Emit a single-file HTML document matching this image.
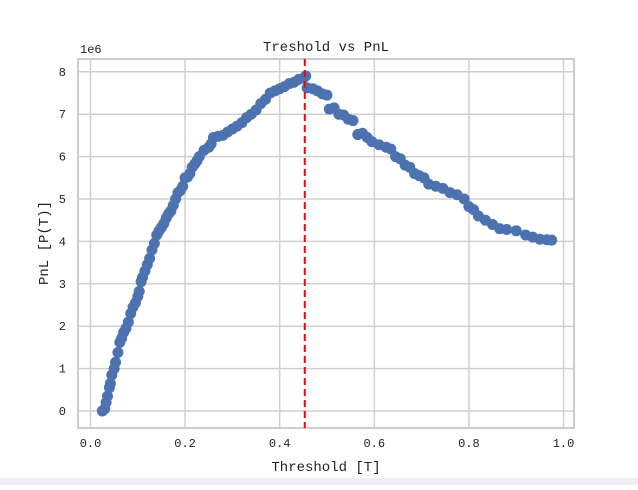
<!DOCTYPE html>
<html><head><meta charset="utf-8"><style>
body{margin:0;background:#fff;}
svg text{font-family:"Liberation Mono",monospace;fill:#222;}
</style></head><body>
<svg id="chart" width="638" height="485" xmlns="http://www.w3.org/2000/svg">
<rect x="0" y="0" width="638" height="485" fill="#fff"/>
<rect x="0" y="478" width="638" height="7" fill="#eeeef4"/>
<g id="grid"></g>
<rect x="78" y="59" width="496" height="369" fill="none" stroke="#ccc" stroke-width="2"/>
<g id="points"></g>
<line id="vline" y1="59" y2="428" stroke="#f00" stroke-width="2" stroke-dasharray="7,4"/>
<g id="ticks"></g>
<text x="326" y="51" font-size="14" text-anchor="middle">Treshold vs PnL</text>
<text x="80" y="53" font-size="12">1e6</text>
<text x="326" y="471" font-size="14" text-anchor="middle">Threshold [T]</text>
<text transform="translate(48,243) rotate(-90)" font-size="14" text-anchor="middle">PnL [P(T)]</text>
</svg>
<script>
const xs=[0.025,0.03,0.033,0.036,0.04,0.042,0.045,0.05,0.053,0.058,0.062,0.066,0.07,0.075,0.08,0.085,0.09,0.095,0.1,0.103,0.107,0.11,0.115,0.12,0.125,0.13,0.135,0.14,0.145,0.15,0.155,0.16,0.165,0.17,0.175,0.18,0.185,0.19,0.195,0.2,0.205,0.21,0.215,0.22,0.225,0.23,0.24,0.25,0.255,0.26,0.27,0.28,0.29,0.3,0.31,0.32,0.33,0.34,0.35,0.36,0.37,0.38,0.39,0.4,0.41,0.42,0.43,0.44,0.45,0.455,0.458,0.47,0.48,0.49,0.5,0.505,0.515,0.525,0.535,0.545,0.555,0.565,0.575,0.585,0.595,0.61,0.625,0.635,0.645,0.655,0.665,0.675,0.685,0.695,0.705,0.715,0.73,0.745,0.76,0.775,0.79,0.8,0.81,0.82,0.835,0.85,0.865,0.88,0.9,0.92,0.935,0.95,0.965,0.975];
const ys=[0,0.05,0.2,0.35,0.55,0.65,0.85,1.0,1.15,1.38,1.62,1.72,1.85,1.95,2.1,2.3,2.45,2.55,2.7,2.82,3.05,3.15,3.3,3.45,3.6,3.8,3.95,4.15,4.25,4.33,4.42,4.55,4.65,4.72,4.85,5.0,5.15,5.2,5.3,5.5,5.52,5.6,5.75,5.82,5.9,6.0,6.15,6.22,6.3,6.45,6.48,6.5,6.58,6.65,6.72,6.8,6.92,7.0,7.1,7.25,7.35,7.5,7.55,7.6,7.65,7.72,7.75,7.82,7.85,7.9,7.62,7.6,7.55,7.48,7.45,7.12,7.15,7.0,6.98,6.88,6.85,6.52,6.55,6.45,6.35,6.28,6.22,6.18,6.0,5.95,5.8,5.75,5.6,5.55,5.5,5.35,5.3,5.25,5.15,5.1,5.0,4.82,4.75,4.6,4.5,4.4,4.3,4.28,4.25,4.15,4.1,4.05,4.04,4.03];
const xTicks=[0,0.2,0.4,0.6,0.8,1.0];
const xTickLabels=["0.0","0.2","0.4","0.6","0.8","1.0"];
const yTicks=[0,1,2,3,4,5,6,7,8];
const bestThreshold=[0.453];
const X=v=>90.5+v*473;
const Y=v=>411-v*42.4;
const NS="http://www.w3.org/2000/svg";
const grid=document.getElementById('grid'),ticks=document.getElementById('ticks'),pts=document.getElementById('points');
function mk(tag,attrs,parent){const e=document.createElementNS(NS,tag);for(const k in attrs)e.setAttribute(k,attrs[k]);parent.appendChild(e);return e;}
xTicks.forEach((t,i)=>{
 const l=mk('line',{x1:X(t),x2:X(t),y1:59,y2:428,stroke:'#d0d0d0','stroke-width':1.5},grid);
 
 
 const tx=mk('text',{x:X(t),y:447,'font-size':12,'text-anchor':'middle'},ticks);
 tx.textContent=xTickLabels[i];
 
 
});
yTicks.forEach(t=>{
 const l=mk('line',{x1:78,x2:574,y1:Y(t),y2:Y(t),stroke:'#d0d0d0','stroke-width':1.5},grid);
 
 
 const tx=mk('text',{x:66,y:Y(t)+4,'font-size':12,'text-anchor':'end'},ticks);
 tx.textContent=String(t);
 
 
});
xs.forEach((x,i)=>{
 const c=mk('circle',{cx:X(x),cy:Y(ys[i]),r:5.5,fill:'#4c72b0'},pts);
 
 
});
const vl=document.getElementById('vline');
vl.setAttribute('x1',X(bestThreshold[0]));vl.setAttribute('x2',X(bestThreshold[0]));
</script>
</body></html>
